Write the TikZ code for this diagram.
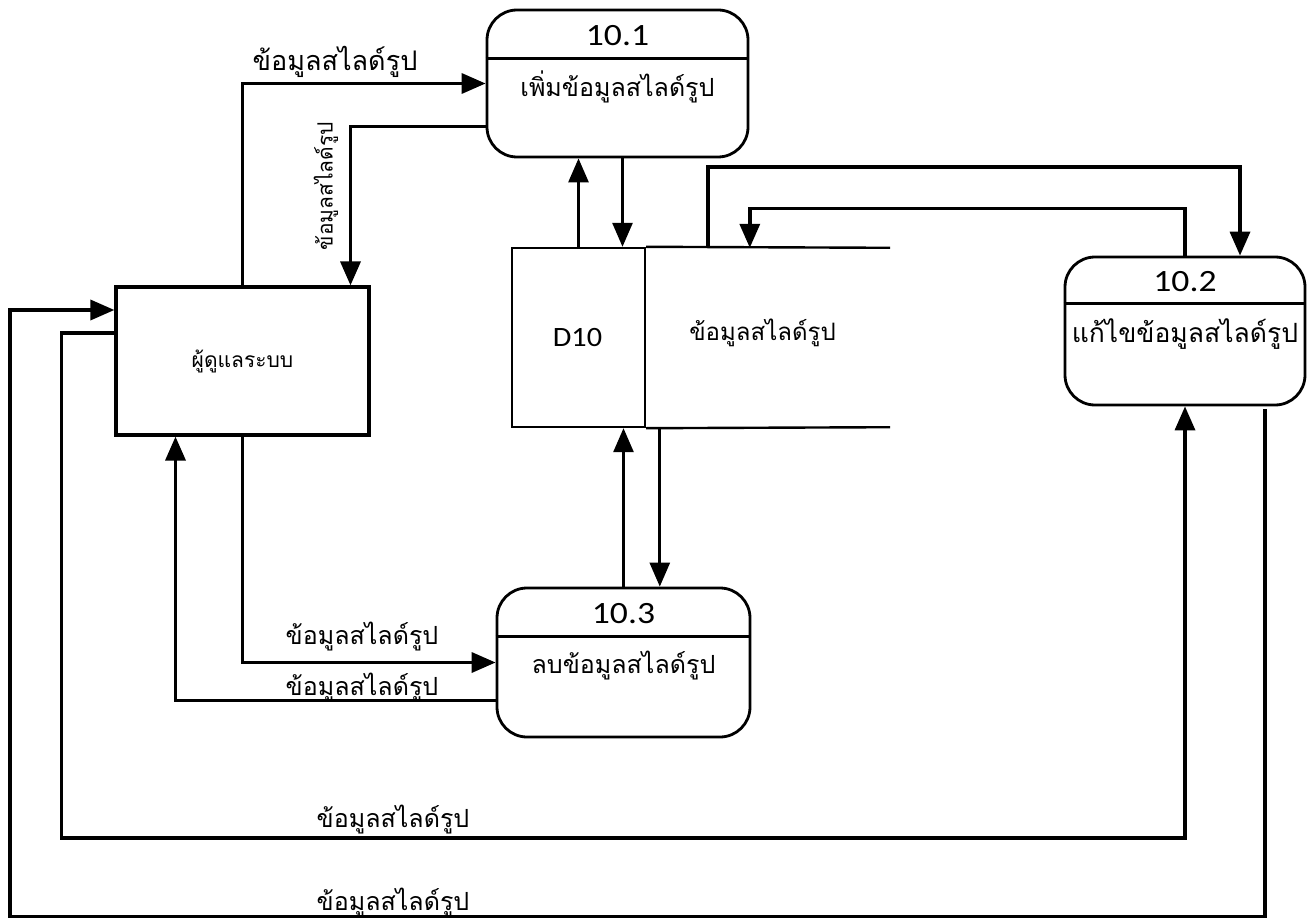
\documentclass[tikz,border=0pt]{standalone}
\usepackage{fontspec}
\newfontfamily\thaif[Script=Thai]{Loma}
\newfontfamily\numf[FakeStretch=1.15]{Carlito}
\newfontfamily\dnumf[FakeStretch=1.08]{Carlito}
\usetikzlibrary{arrows.meta}
\begin{document}
\begin{tikzpicture}[x=1pt,y=-1pt,
  proc/.style={draw, line width=2.8pt, rounded corners=30pt, inner sep=0pt},
  boxx/.style={draw, line width=3.2pt, inner sep=0pt},
  flow/.style={line width=3.5pt, -{Triangle[length=24pt,width=20pt]}},
  thinflow/.style={line width=2.8pt, -{Triangle[length=24pt,width=20pt]}},
  lbl/.style={font=\thaif\fontsize{25}{30}\selectfont, inner sep=0pt},
  num/.style={font=\numf\fontsize{31}{36}\selectfont, inner sep=0pt}]
\useasboundingbox (0,0) rectangle (1315,920);
\fill[white] (0,0) rectangle (1315,920);

% processes
\node[proc, minimum width=261pt, minimum height=147pt] (p1) at (617.5,83.5) {};
\node[proc, minimum width=240pt, minimum height=148pt] (p2) at (1185,331) {};
\node[proc, minimum width=253pt, minimum height=149pt] (p3) at (623.5,662.5) {};
\draw[line width=2.8pt] ([yshift=-50pt]p1.north west) -- ([yshift=-50pt]p1.north east);
\draw[line width=2.8pt] ([yshift=-48pt]p2.north west) -- ([yshift=-48pt]p2.north east);
\draw[line width=2.8pt] ([yshift=-50pt]p3.north west) -- ([yshift=-50pt]p3.north east);
\node[num] (t1) at ([yshift=-27pt]p1.north) {10.1};
\node[num] (t2) at ([yshift=-26pt]p2.north) {10.2};
\node[num] (t3) at ([yshift=-27pt]p3.north) {10.3};
\node[lbl] (n1) at ([yshift=-78pt]p1.north) {เพิ่มข้อมูลสไลด์รูป};
\node[lbl, font=\thaif\fontsize{26.5}{30}\selectfont] (n2) at ([yshift=-78pt]p2.north) {แก้ไขข้อมูลสไลด์รูป};
\node[lbl] (n3) at ([yshift=-79pt]p3.north) {ลบข้อมูลสไลด์รูป};

% external entity
\node[boxx, minimum width=253pt, minimum height=148pt] (admin) at (242.5,361) {};
\node[lbl, font=\thaif\fontsize{21}{25}\selectfont] (na) at (admin.center) {ผู้ดูแลระบบ};

% data store
\node[draw, line width=2.4pt, minimum width=133pt, minimum height=179pt, inner sep=0pt] (store) at (578.5,337.5) {};
\node[minimum width=245pt, minimum height=179pt, inner sep=0pt] (storeR) at (767.5,337.5) {};
\draw[line width=2.4pt] (store.north east) -- (storeR.north east);
\draw[line width=2.4pt] (store.south east) -- (storeR.south east);
\node[font=\dnumf\fontsize{28}{32}\selectfont, inner sep=0pt] (d10) at ([xshift=-1pt]store.center) {D10};
\node[lbl, font=\thaif\fontsize{24}{28}\selectfont] (ns) at ([xshift=-5pt,yshift=5pt]storeR.center) {ข้อมูลสไลด์รูป};

% flows
\draw[flow] (admin.north) |- (p1.west);
\draw[flow] ([yshift=-43pt]p1.west) -| ([xshift=108pt]admin.north);
\draw[thinflow] (store.north) -- (store.north |- p1.south);
\coordinate (a4) at ([xshift=5pt]p1.south);
\draw[thinflow] (a4) -- (a4 |- store.north);
\draw[flow] ([xshift=63pt]storeR.north west) -- ++(0,-81) -| ([xshift=55pt]p2.north);
\draw[flow] (p2.north) -- ++(0,-47) -| ([xshift=105pt]storeR.north west);
\draw[thinflow] (p3.north) -- (p3.north |- store.south);
\coordinate (a8) at ([xshift=15pt]storeR.south west);
\draw[thinflow] (a8) -- (a8 |- p3.north);
\draw[flow] (admin.south) |- (p3.west);
\draw[flow] ([yshift=-38pt]p3.west) -| ([xshift=-67pt]admin.south);
\draw[flow] ([yshift=28pt]admin.west) -- ++(-53,0) -- ++(0,505) -| (p2.south);
\coordinate (a12) at ([xshift=80pt,yshift=-3pt]p2.south);
\draw[flow] (a12) -- ++(0,507) -- ++(-1255,0) |- ([yshift=51pt]admin.west);

% flow labels
\node[lbl, font=\thaif\fontsize{27}{30}\selectfont] (l1) at (335,62) {ข้อมูลสไลด์รูป};
\node[lbl, rotate=90, font=\thaif\fontsize{21}{25}\selectfont] (l2) at (326,186) {ข้อมูลสไลด์รูป};
\node[lbl] (l9) at (362,637) {ข้อมูลสไลด์รูป};
\node[lbl] (l10) at (362,688) {ข้อมูลสไลด์รูป};
\node[lbl] (l11) at (393,820) {ข้อมูลสไลด์รูป};
\node[lbl] (l12) at (393,903) {ข้อมูลสไลด์รูป};
\end{tikzpicture}
\end{document}
